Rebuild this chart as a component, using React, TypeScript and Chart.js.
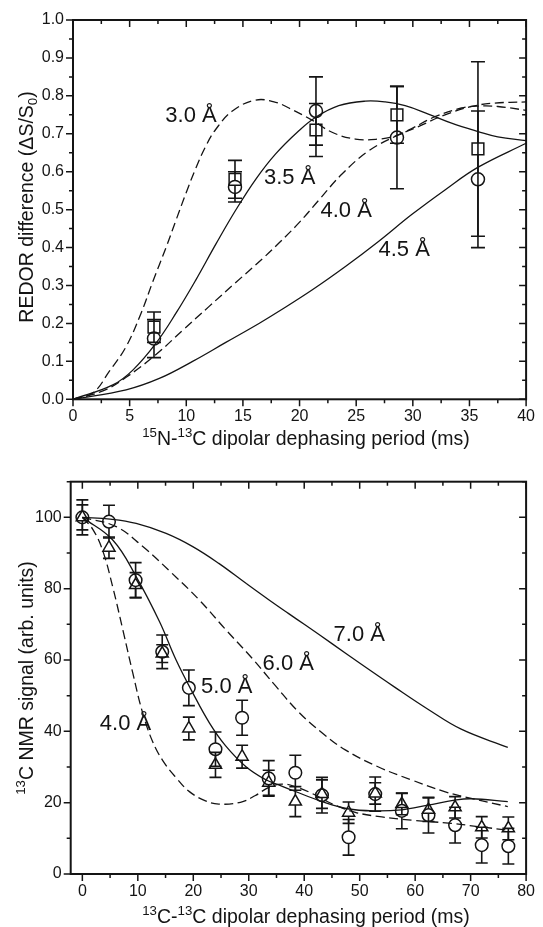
import React, { useEffect, useRef } from "react";
import { Chart, registerables } from "chart.js";

Chart.register(...registerables);

const FONT = '"Liberation Sans", Arial, Helvetica, sans-serif';
const INK = "#141414";

// ---------------- Top panel: REDOR difference ----------------
const REDOR_T = [7.15, 14.3, 21.45, 28.6, 35.75];
const REDOR_CIRCLE = [0.16, 0.56, 0.76, 0.69, 0.58];
const REDOR_CIRCLE_ERR = [0.05, 0.04, 0.09, 0.135, 0.18];
const REDOR_SQUARE = [0.19, 0.58, 0.71, 0.75, 0.66];
const REDOR_SQUARE_ERR = [0.04, 0.05, 0.07, 0.075, 0.23];

const SIM30_X = [0, 1.76, 3.23, 4.69, 6.01, 7.04, 8.21, 9.09, 9.97, 10.85, 11.73, 12.61, 14.07, 16.13, 17.89, 19.06, 21.1, 22.87, 24.93, 26.97, 28.44, 29.9, 31.96, 34.3, 35.77, 37.5, 40];
const SIM30_Y = [0, 0.017, 0.075, 0.139, 0.227, 0.31, 0.4, 0.472, 0.543, 0.61, 0.668, 0.712, 0.76, 0.789, 0.783, 0.768, 0.736, 0.704, 0.686, 0.686, 0.694, 0.714, 0.745, 0.768, 0.773, 0.772, 0.762];
const SIM35_X = [0, 3.52, 5.28, 7.33, 9.09, 10.85, 12.61, 14.37, 16.13, 17.89, 19.94, 21.4, 23.46, 25.8, 27.56, 29.32, 31.37, 33.42, 35.77, 37.5, 40];
const SIM35_Y = [0, 0.038, 0.077, 0.148, 0.227, 0.315, 0.409, 0.499, 0.58, 0.647, 0.708, 0.743, 0.774, 0.786, 0.784, 0.774, 0.752, 0.728, 0.706, 0.692, 0.682];
const SIM40_X = [0, 2.64, 4.69, 7.33, 9.68, 12.02, 14.37, 16.71, 18.18, 19.94, 21.7, 23.75, 26.1, 28.44, 30.49, 32.84, 35.18, 37.24, 40];
const SIM40_Y = [0, 0.022, 0.058, 0.118, 0.182, 0.245, 0.308, 0.37, 0.412, 0.465, 0.525, 0.594, 0.655, 0.693, 0.719, 0.75, 0.772, 0.781, 0.784];
const SIM45_X = [0, 4.69, 7.62, 10.56, 13.49, 16.42, 18.18, 21.1, 24.05, 26.97, 29.9, 32.84, 35.77, 40];
const SIM45_Y = [0, 0.025, 0.055, 0.1, 0.15, 0.2, 0.232, 0.288, 0.35, 0.416, 0.487, 0.552, 0.612, 0.675];

const TOP_X_TICKS = [0, 5, 10, 15, 20, 25, 30, 35, 40];
const TOP_Y_TICKS = [0, 0.1, 0.2, 0.3, 0.4, 0.5, 0.6, 0.7, 0.8, 0.9, 1.0];
const TOP_LABELS = [
  { text: "3.0 Å", x: 8.15, y: 0.746 },
  { text: "3.5 Å", x: 16.86, y: 0.583 },
  { text: "4.0 Å", x: 21.85, y: 0.496 },
  { text: "4.5 Å", x: 26.97, y: 0.394 },
];

// ---------------- Bottom panel: 13C NMR signal ----------------
const DEPH_T = [0, 4.8, 9.6, 14.4, 19.2, 24, 28.8, 33.6, 38.4, 43.2, 48, 52.8, 57.6, 62.4, 67.2, 72, 76.8];
const DEPH_CIRCLE = [100, 98.8, 82.4, 62.3, 52.2, 35.0, 43.8, 26.8, 28.4, 22.1, 10.3, 22.4, 17.7, 16.5, 13.7, 8.1, 7.8];
const DEPH_CIRCLE_ERR = [4.9, 4.6, 4.9, 4.7, 5, 4.8, 4.9, 5, 4.9, 5, 5, 4.8, 5, 5, 5, 5, 5];
const DEPH_TRIANGLE = [100, 91.5, 81, 61.8, 40.8, 30.6, 32.9, 25.6, 20.3, 22.4, 17.2, 22.6, 19.6, 18.0, 18.7, 13.1, 12.8];
const DEPH_TRIANGLE_ERR = [3.5, 3, 3.5, 2.5, 3.2, 3.5, 3.2, 3.5, 4.2, 4, 3, 3, 3, 3.3, 3, 3, 3.2];

const S40_X = [0, 1.94, 3.73, 5.52, 7.31, 9.1, 10.9, 12.7, 14.5, 16.9, 19.3, 22.2, 24.6, 28.5, 31.2, 33.6, 36, 38.4, 41.4, 45, 49.2, 54, 59.3, 66.5, 71.3, 76.7];
const S40_Y = [100, 96.5, 90.4, 80.2, 68.4, 56.3, 45.0, 37.0, 31.8, 27.0, 23.1, 20.5, 19.6, 20.1, 22.0, 24.3, 25.2, 24.5, 22.6, 19.7, 17.3, 16.0, 15.1, 14.2, 13.3, 12.3];
const S50_X = [0, 5.52, 9.7, 13.9, 16.9, 19.9, 22.9, 25.8, 29.5, 33.0, 35.4, 38.3, 43.2, 47.8, 52.7, 57.5, 62.3, 67.1, 70.1, 76.7];
const S50_Y = [100, 93.6, 83.4, 70.8, 60.0, 50.8, 42.4, 36.0, 30.1, 26.5, 25.0, 23.2, 20.3, 18.3, 17.7, 18.0, 19.3, 20.7, 21.1, 20.3];
const S60_X = [0, 6.1, 10.9, 15.7, 21.1, 25.8, 30.6, 34.8, 39.0, 43.2, 47.4, 53.4, 59.3, 65.3, 70.1, 76.7];
const S60_Y = [100, 97.4, 91.8, 85.0, 76.8, 68.6, 60.5, 52.8, 45.4, 39.6, 34.8, 30.0, 26.4, 23.1, 21.2, 18.9];
const S70_X = [0, 5.0, 9.7, 15.1, 19.9, 24.6, 29.5, 33.6, 37.2, 40.2, 45.0, 50.3, 56.3, 62.3, 68.3, 76.7];
const S70_Y = [100, 99.5, 98.3, 95.5, 91.8, 87.1, 81.5, 76.9, 73.0, 69.8, 64.6, 58.8, 52.4, 46.2, 40.6, 35.5];

const BOT_X_TICKS = [0, 10, 20, 30, 40, 50, 60, 70, 80];
const BOT_Y_TICKS = [0, 20, 40, 60, 80, 100];
const BOT_LABELS = [
  { text: "7.0 Å", x: 45.3, y: 67.0 },
  { text: "6.0 Å", x: 32.5, y: 59.0 },
  { text: "5.0 Å", x: 21.4, y: 52.4 },
  { text: "4.0 Å", x: 3.15, y: 42.0 },
];

type Seg = { t: string; s?: "sup" | "sub" };
const TOP_X_TITLE: Seg[] = [{ t: "15", s: "sup" }, { t: "N-" }, { t: "13", s: "sup" }, { t: "C dipolar dephasing period (ms)" }];
const TOP_Y_TITLE: Seg[] = [{ t: "REDOR difference (ΔS/S" }, { t: "0", s: "sub" }, { t: ")" }];
const BOT_X_TITLE: Seg[] = [{ t: "13", s: "sup" }, { t: "C-" }, { t: "13", s: "sup" }, { t: "C dipolar dephasing period (ms)" }];
const BOT_Y_TITLE: Seg[] = [{ t: "13", s: "sup" }, { t: "C NMR signal (arb. units)" }];

const pts = (xs: number[], ys: number[]) => xs.map((x, i) => ({ x, y: ys[i] }));

function drawRich(ctx: CanvasRenderingContext2D, segs: Seg[], cx: number, base: number, size: number, rot: boolean) {
  ctx.save();
  if (rot) {
    ctx.translate(base, cx);
    ctx.rotate(-Math.PI / 2);
  } else {
    ctx.translate(cx, base);
  }
  ctx.fillStyle = INK;
  ctx.textBaseline = "alphabetic";
  ctx.textAlign = "left";
  const fontOf = (s: Seg) => `${s.s ? size * 0.68 : size}px ${FONT}`;
  let total = 0;
  for (const s of segs) {
    ctx.font = fontOf(s);
    total += ctx.measureText(s.t).width;
  }
  let x = -total / 2;
  for (const s of segs) {
    ctx.font = fontOf(s);
    const dy = s.s === "sup" ? -size * 0.4 : s.s === "sub" ? size * 0.2 : 0;
    ctx.fillText(s.t, x, dy);
    x += ctx.measureText(s.t).width;
  }
  ctx.restore();
}

interface ErrSet { xs: number[]; ys: number[]; es: number[]; gapUp: number; gapDown: number; cap: number }
interface Deco {
  xStep: number; xMajor: number; xFrom: number; xTo: number;
  yStep: number; yMajor: number; yFrom: number; yTo: number;
  labels: { text: string; x: number; y: number }[];
  xTitle: Seg[]; xTitleX: number; xTitleBase: number;
  yTitle: Seg[]; yTitleY: number; yTitleBase: number;
  errs: ErrSet[];
}

function decorPlugin(d: Deco) {
  return {
    id: "decor",
    afterDatasetsDraw(chart: any) {
      const ctx: CanvasRenderingContext2D = chart.ctx;
      const xs = chart.scales.x;
      const ys = chart.scales.y;
      ctx.save();
      ctx.strokeStyle = INK;
      ctx.lineWidth = 1.6;
      for (const e of d.errs) {
        for (let i = 0; i < e.xs.length; i++) {
          const px = xs.getPixelForValue(e.xs[i]);
          const pc = ys.getPixelForValue(e.ys[i]);
          const pt = ys.getPixelForValue(e.ys[i] + e.es[i]);
          const pb = ys.getPixelForValue(e.ys[i] - e.es[i]);
          ctx.beginPath();
          if (pt < pc - e.gapUp) { ctx.moveTo(px, pt); ctx.lineTo(px, pc - e.gapUp); }
          if (pb > pc + e.gapDown) { ctx.moveTo(px, pc + e.gapDown); ctx.lineTo(px, pb); }
          ctx.moveTo(px - e.cap, pt); ctx.lineTo(px + e.cap, pt);
          ctx.moveTo(px - e.cap, pb); ctx.lineTo(px + e.cap, pb);
          ctx.stroke();
        }
      }
      ctx.restore();
    },
    afterDraw(chart: any) {
      const ctx: CanvasRenderingContext2D = chart.ctx;
      const xs = chart.scales.x;
      const ys = chart.scales.y;
      const { left, right, top, bottom } = chart.chartArea;
      ctx.save();
      ctx.strokeStyle = INK;
      ctx.lineWidth = 1.5;
      ctx.beginPath();
      for (let v = d.xFrom; v <= d.xTo + 1e-9; v += d.xStep) {
        const r = v / d.xMajor;
        const len = Math.abs(r - Math.round(r)) < 1e-6 ? 7 : 4;
        const px = xs.getPixelForValue(v);
        ctx.moveTo(px, bottom); ctx.lineTo(px, bottom + len);
        ctx.moveTo(px, top); ctx.lineTo(px, top + len);
      }
      for (let v = d.yFrom; v <= d.yTo + 1e-9; v += d.yStep) {
        const r = v / d.yMajor;
        const len = Math.abs(r - Math.round(r)) < 1e-6 ? 7 : 4;
        const py = ys.getPixelForValue(v);
        ctx.moveTo(left - len, py); ctx.lineTo(left, py);
        ctx.moveTo(right - len, py); ctx.lineTo(right, py);
      }
      ctx.stroke();
      ctx.lineWidth = 2;
      ctx.strokeRect(left, top, right - left, bottom - top);
      ctx.fillStyle = INK;
      ctx.font = `22px ${FONT}`;
      ctx.textAlign = "left";
      ctx.textBaseline = "middle";
      for (const l of d.labels) {
        ctx.fillText(l.text, xs.getPixelForValue(l.x), ys.getPixelForValue(l.y));
      }
      ctx.restore();
      drawRich(ctx, d.xTitle, d.xTitleX, d.xTitleBase, 19.5, false);
      drawRich(ctx, d.yTitle, d.yTitleY, d.yTitleBase, 19.5, true);
    },
  };
}

function lineDs(xs: number[], ys: number[], dashed: boolean) {
  return {
    data: pts(xs, ys),
    showLine: true,
    borderColor: INK,
    borderWidth: 1.3,
    borderDash: dashed ? [9, 4.5] : [],
    pointRadius: 0,
    pointHoverRadius: 0,
    tension: 0.4,
    fill: false,
  };
}

function markerDs(xs: number[], ys: number[], style: string, r: number) {
  return {
    data: pts(xs, ys),
    showLine: false,
    pointStyle: style,
    pointRadius: r,
    pointHoverRadius: r,
    pointBorderWidth: 1.5,
    borderColor: INK,
    backgroundColor: "rgba(0,0,0,0)",
  };
}

function scaleOpts(min: number, max: number, ticks: number[], fmt: (v: number) => string, pad: number, fit: (s: any) => void) {
  return {
    type: "linear",
    min,
    max,
    grid: { display: false, drawTicks: false },
    border: { display: false },
    afterBuildTicks: (s: any) => { s.ticks = ticks.map((v) => ({ value: v })); },
    afterFit: fit,
    ticks: {
      padding: pad,
      color: INK,
      font: { family: FONT, size: 16 },
      maxRotation: 0,
      autoSkip: false,
      includeBounds: false,
      callback: (v: any) => fmt(Number(v)),
    },
  };
}

function buildTop(): any {
  return {
    type: "scatter",
    data: {
      datasets: [
        lineDs(SIM30_X, SIM30_Y, true),
        lineDs(SIM35_X, SIM35_Y, false),
        lineDs(SIM40_X, SIM40_Y, true),
        lineDs(SIM45_X, SIM45_Y, false),
        markerDs(REDOR_T, REDOR_SQUARE, "rect", 8.3),
        markerDs(REDOR_T, REDOR_CIRCLE, "circle", 6.5),
      ],
    },
    options: {
      responsive: false,
      animation: false,
      events: [],
      layout: { padding: { left: 0, right: 15, top: 20, bottom: 0 } },
      plugins: { legend: { display: false }, tooltip: { enabled: false } },
      scales: {
        x: scaleOpts(0, 40, TOP_X_TICKS, (v) => String(Math.round(v)), 8, (s) => { s.height = 60.7; }),
        y: scaleOpts(0, 1, TOP_Y_TICKS, (v) => v.toFixed(1), 9, (s) => { s.width = 73; }),
      },
    },
    plugins: [
      decorPlugin({
        xStep: 2.5, xMajor: 5, xFrom: 0, xTo: 40,
        yStep: 0.05, yMajor: 0.1, yFrom: 0, yTo: 1,
        labels: TOP_LABELS,
        xTitle: TOP_X_TITLE, xTitleX: 306, xTitleBase: 445,
        yTitle: TOP_Y_TITLE, yTitleY: 207, yTitleBase: 33,
        errs: [
          { xs: REDOR_T, ys: REDOR_SQUARE, es: REDOR_SQUARE_ERR, gapUp: 5.9, gapDown: 5.9, cap: 7 },
          { xs: REDOR_T, ys: REDOR_CIRCLE, es: REDOR_CIRCLE_ERR, gapUp: 6.5, gapDown: 6.5, cap: 7 },
        ],
      }),
    ],
  };
}

function buildBottom(): any {
  return {
    type: "scatter",
    data: {
      datasets: [
        lineDs(S40_X, S40_Y, true),
        lineDs(S50_X, S50_Y, false),
        lineDs(S60_X, S60_Y, true),
        lineDs(S70_X, S70_Y, false),
        markerDs(DEPH_T, DEPH_TRIANGLE, "triangle", 7),
        markerDs(DEPH_T, DEPH_CIRCLE, "circle", 6.3),
      ],
    },
    options: {
      responsive: false,
      animation: false,
      events: [],
      layout: { padding: { left: 0, right: 15, top: 21.7, bottom: 0 } },
      plugins: { legend: { display: false }, tooltip: { enabled: false } },
      scales: {
        x: scaleOpts(-2.1, 80, BOT_X_TICKS, (v) => String(Math.round(v)), 8, (s) => { s.height = 53; }),
        y: scaleOpts(0, 110, BOT_Y_TICKS, (v) => String(Math.round(v)), 9, (s) => { s.width = 70.7; }),
      },
    },
    plugins: [
      decorPlugin({
        xStep: 5, xMajor: 10, xFrom: 0, xTo: 80,
        yStep: 10, yMajor: 20, yFrom: 0, yTo: 110,
        labels: BOT_LABELS,
        xTitle: BOT_X_TITLE, xTitleX: 306, xTitleBase: 463,
        yTitle: BOT_Y_TITLE, yTitleY: 218, yTitleBase: 33,
        errs: [
          { xs: DEPH_T, ys: DEPH_TRIANGLE, es: DEPH_TRIANGLE_ERR, gapUp: 7, gapDown: 3.5, cap: 6 },
          { xs: DEPH_T, ys: DEPH_CIRCLE, es: DEPH_CIRCLE_ERR, gapUp: 6.3, gapDown: 6.3, cap: 6 },
        ],
      }),
    ],
  };
}

function Panel({ top, height, build }: { top: number; height: number; build: () => any }) {
  const ref = useRef<HTMLCanvasElement>(null);
  useEffect(() => {
    const chart = new Chart(ref.current as HTMLCanvasElement, build());
    return () => chart.destroy();
  }, []);
  return (
    <canvas
      ref={ref}
      width={543}
      height={height}
      style={{ position: "absolute", left: 0, top, width: 543, height, display: "block" }}
    />
  );
}

export default function App() {
  return (
    <div style={{ position: "absolute", left: 0, top: 0, width: 543, height: 927, background: "#fff" }}>
      <Panel top={0} height={460} build={buildTop} />
      <Panel top={460} height={467} build={buildBottom} />
    </div>
  );
}
